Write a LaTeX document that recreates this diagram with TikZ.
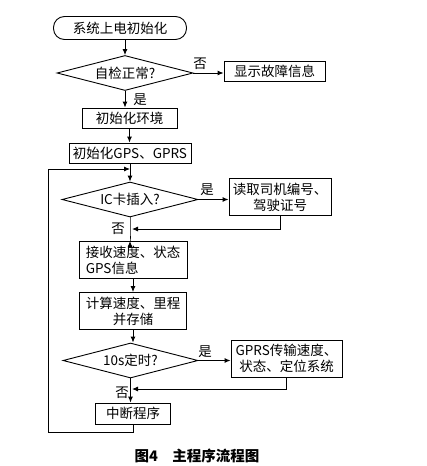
\documentclass[tikz,border=0pt]{standalone}
\usepackage{fontspec}
\setmainfont{Noto Sans CJK SC}
\usetikzlibrary{shapes.geometric,arrows.meta}
\tikzset{
  box/.style={draw, line width=0.9pt, inner sep=1pt, align=center,
    font=\fontsize{13.5}{16}\selectfont},
  term/.style={box, rounded corners=11pt},
  decide/.style={draw, diamond, line width=0.9pt, inner sep=0pt, aspect=4,
    font=\fontsize{13.5}{16}\selectfont},
  lbl/.style={font=\fontsize{13.5}{16}\selectfont, inner sep=0pt},
  arr/.style={line width=0.9pt, -{Latex[length=6pt,width=5pt]}},
  ln/.style={line width=0.9pt}
}
\begin{document}
\begin{tikzpicture}[x=1pt,y=-1pt]
\useasboundingbox (0,0) rectangle (426,466);
\node[term, minimum width=133pt, minimum height=23pt] (start) at (120,28) {系统上电初始化};
\node[decide, minimum width=136pt, minimum height=35pt] (chk) at (125,73) {自检正常?};
\node[box, minimum width=101pt, minimum height=20pt] (fault) at (274.5,71) {显示故障信息};
\node[box, minimum width=95pt, minimum height=20pt] (initenv) at (129.5,118) {初始化环境};
\node[box, minimum width=122pt, minimum height=20pt] (initgps) at (130,153) {初始化GPS、GPRS};
\node[decide, minimum width=136pt, minimum height=35pt] (icq) at (130,199.5) {IC卡插入?};
\node[box, minimum width=102pt, minimum height=37pt] (read) at (280,197) {读取司机编号、\\驾驶证号};
\node[box, minimum width=108pt, minimum height=37pt, align=left] (recv) at (133,260) {接收速度、状态\\ GPS信息};
\node[box, minimum width=107pt, minimum height=37pt] (calc) at (133,311) {计算速度、里程\\并存储};
\node[decide, minimum width=135pt, minimum height=35pt] (tq) at (130.5,360.5) {10s定时?};
\node[box, minimum width=111pt, minimum height=37pt] (gprs) at (286.5,358.5) {GPRS传输速度、\\状态、定位系统};
\node[box, minimum width=75pt, minimum height=21pt] (intr) at (133,413.5) {中断程序};
% labels
\node[lbl] (no1) at (200,64) {否};
\node[lbl] (yes1) at (140,100) {是};
\node[lbl] (yes2) at (207,190) {是};
\node[lbl] (no2) at (118,229) {否};
\node[lbl] (yes3) at (205,352) {是};
\node[lbl] (no3) at (122,393) {否};
% joins and loop
\coordinate (j1) at (132,229);
\coordinate (j2) at (132,389);
\coordinate (lpb) at (48,432);
\coordinate (lpt) at (48,169);
\draw[arr] (start.south -| chk.north) -- (chk.north);
\draw[arr] (chk.east) -- (chk.east -| fault.west);
\draw[arr] (chk.south) -- (chk.south |- initenv.north);
\draw[arr] (initenv.south) -- (initenv.south |- initgps.north);
\draw[arr] (initgps.south) -- (initgps.south |- icq.north);
\draw[arr] (icq.east) -- (icq.east -| read.west);
\draw[arr] (icq.south) |- (recv.north -| icq.south);
\draw[arr] (read.south) |- (j1);
\draw[arr] (recv.south) -- (recv.south |- calc.north);
\draw[arr] (calc.south) -- (calc.south |- tq.north);
\draw[arr] (tq.east) -- (tq.east -| gprs.west);
\draw[arr] (tq.south) -- (tq.south |- intr.north);
\draw[arr] (gprs.south) |- (j2);
\draw[arr] (intr.south) |- (lpb) -- (lpt) -- (lpt -| initgps.south);
% caption
\node[font=\fontsize{14.5}{16}\bfseries] (cap) at (197,456) {图4\quad 主程序流程图};
\end{tikzpicture}
\end{document}
